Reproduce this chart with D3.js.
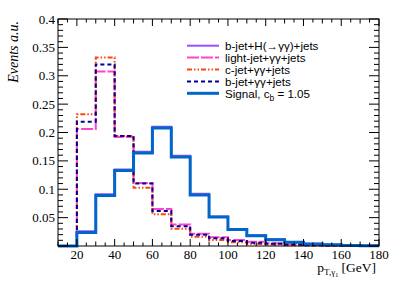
<!DOCTYPE html>
<html lang="en">
<head>
<meta charset="UTF-8">
<title>pT gamma1</title>
<style>
  body { margin: 0; background: #fff; }
  svg { display: block; }
  .tick-label { font-family: "Liberation Serif", "Times New Roman", serif; font-size: 13px; fill: #000; }
  .leg { font-family: "Liberation Sans", Arial, sans-serif; font-size: 11.6px; fill: #000; }
</style>
</head>
<body>
<div class="graph"></div>
<script src="https://d3js.org/d3.v7.min.js"></script>
<script>
    var w = 400, h = 284;

    // bins of 10 GeV from 10 to 180
    var binLow = [10, 20, 30, 40, 50, 60, 70, 80, 90, 100, 110, 120, 130, 140, 150, 160, 170];
    var binWidth = 10;

    var bjetH  = [0, 0.026, 0.091, 0.135, 0.166, 0.210, 0.159, 0.092, 0.052, 0.030, 0.019, 0.012, 0.007, 0.004, 0.0025, 0.0012, 0.0006];
    var light  = [0, 0.206, 0.3075, 0.192, 0.111, 0.065, 0.038, 0.0217, 0.0153, 0.0106, 0.0076, 0.0047, 0.003, 0.002, 0.0012, 0.0008, 0.0005];
    var cjet   = [0, 0.232, 0.332, 0.194, 0.1027, 0.0558, 0.0305, 0.0164, 0.0106, 0.0065, 0.0035, 0.0025, 0.0015, 0.001, 0.0006, 0.0004, 0.0002];
    var bjet   = [0, 0.219, 0.320, 0.194, 0.110, 0.0616, 0.035, 0.020, 0.0135, 0.009, 0.0059, 0.004, 0.0025, 0.0015, 0.001, 0.0006, 0.0003];
    var signal = [0, 0.024, 0.089, 0.133, 0.164, 0.208, 0.157, 0.090, 0.051, 0.029, 0.018, 0.011, 0.0065, 0.0035, 0.002, 0.001, 0.0005];

    var xTicks = [20, 40, 60, 80, 100, 120, 140, 160, 180];
    var yTicks = [0.05, 0.1, 0.15, 0.2, 0.25, 0.3, 0.35, 0.4];

    var series = [
        { name: "b-jet+H(\u2192\u03b3\u03b3)+jets", vals: bjetH, color: "#9b4dff", width: 2, dash: null },
        { name: "light-jet+\u03b3\u03b3+jets", vals: light, color: "#ff44cc", width: 2, dash: "12,2" },
        { name: "c-jet+\u03b3\u03b3+jets", vals: cjet, color: "#ff4411", width: 2, dash: "5,2,1.5,2,1.5,2" },
        { name: "b-jet+\u03b3\u03b3+jets", vals: bjet, color: "#000099", width: 2, dash: "4,3" },
        { name: "Signal", vals: signal, color: "#0066cc", width: 3, dash: null }
    ];

    var svg = d3.select(".graph").append("svg")
        .attr("width", w).attr("height", h);
    svg.append("rect").attr("width", w).attr("height", h).attr("fill", "#fff");

    var x = d3.scaleLinear().domain([10, 180]).range([58, 379]);
    var y = d3.scaleLinear().domain([0, 0.4]).range([246, 19]);

    // histograms
    var line = d3.line().x(function(d) { return x(d[0]); }).y(function(d) { return y(d[1]); });
    series.forEach(function(s) {
        var pts = [];
        s.vals.forEach(function(v, i) {
            pts.push([binLow[i], v]);
            pts.push([binLow[i] + binWidth, v]);
        });
        svg.append("path")
            .attr("d", line(pts))
            .attr("fill", "none")
            .attr("stroke", s.color)
            .attr("stroke-width", s.width)
            .attr("stroke-dasharray", s.dash);
    });

    // frame
    svg.append("rect")
        .attr("x", x(10)).attr("y", y(0.4))
        .attr("width", x(180) - x(10)).attr("height", y(0) - y(0.4))
        .attr("fill", "none").attr("stroke", "#000").attr("stroke-width", 1);

    // x ticks (bottom and top)
    var xMinor = d3.range(10, 181, 5);
    var g = svg.append("g").attr("stroke", "#000").attr("stroke-width", 1);
    xMinor.forEach(function(v) {
        var len = (v % 20 === 0) ? 7 : (v % 10 === 0 ? 4.5 : 3.5);
        g.append("line").attr("x1", x(v)).attr("x2", x(v)).attr("y1", y(0)).attr("y2", y(0) - len);
        g.append("line").attr("x1", x(v)).attr("x2", x(v)).attr("y1", y(0.4)).attr("y2", y(0.4) + len);
    });
    // y ticks (left and right)
    d3.range(0, 0.4001, 0.01).forEach(function(v) {
        var major = Math.abs(v / 0.05 - Math.round(v / 0.05)) < 1e-6;
        var len = major ? 10 : 5;
        g.append("line").attr("x1", x(10)).attr("x2", x(10) + len).attr("y1", y(v)).attr("y2", y(v));
        g.append("line").attr("x1", x(180)).attr("x2", x(180) - len).attr("y1", y(v)).attr("y2", y(v));
    });

    svg.selectAll(".xl").data(xTicks).enter().append("text")
        .attr("class", "tick-label")
        .attr("x", function(d) { return x(d); })
        .attr("y", 259)
        .attr("text-anchor", "middle")
        .text(function(d) { return d; });

    svg.selectAll(".yl").data(yTicks).enter().append("text")
        .attr("class", "tick-label")
        .attr("x", 55)
        .attr("y", function(d) { return y(d) + 4.5; })
        .attr("text-anchor", "end")
        .text(function(d) { return d; });

    // axis titles
    svg.append("text")
        .attr("transform", "translate(17.5,21) rotate(-90)")
        .attr("text-anchor", "end")
        .style("font-family", "Liberation Serif, serif")
        .style("font-style", "italic")
        .style("font-size", "14px")
        .text("Events a.u.");

    var xt = svg.append("text")
        .attr("x", 376).attr("y", 272)
        .attr("text-anchor", "end")
        .style("font-family", "Liberation Serif, serif")
        .style("font-size", "13.5px");
    xt.append("tspan").text("p");
    xt.append("tspan").attr("dy", 3).style("font-size", "9px").text("T,\u03b3");
    xt.append("tspan").attr("dy", 2).style("font-size", "6px").text("1");
    xt.append("tspan").attr("dy", -5).text(" [GeV]");

    // legend
    var legY = [45.7, 57.5, 69.5, 81.5, 93.3];
    series.forEach(function(s, i) {
        svg.append("line")
            .attr("x1", 187).attr("x2", 219)
            .attr("y1", legY[i]).attr("y2", legY[i])
            .attr("stroke", s.color).attr("stroke-width", s.width)
            .attr("stroke-dasharray", s.dash);
        var t = svg.append("text").attr("class", "leg")
            .attr("x", 225).attr("y", legY[i] + 4.2);
        if (i === 4) {
            t.append("tspan").text("Signal, c");
            t.append("tspan").attr("dy", 3).style("font-size", "8.5px").text("b");
            t.append("tspan").attr("dy", -3).text(" = 1.05");
        } else {
            t.text(s.name);
        }
    });
</script>
</body>
</html>
